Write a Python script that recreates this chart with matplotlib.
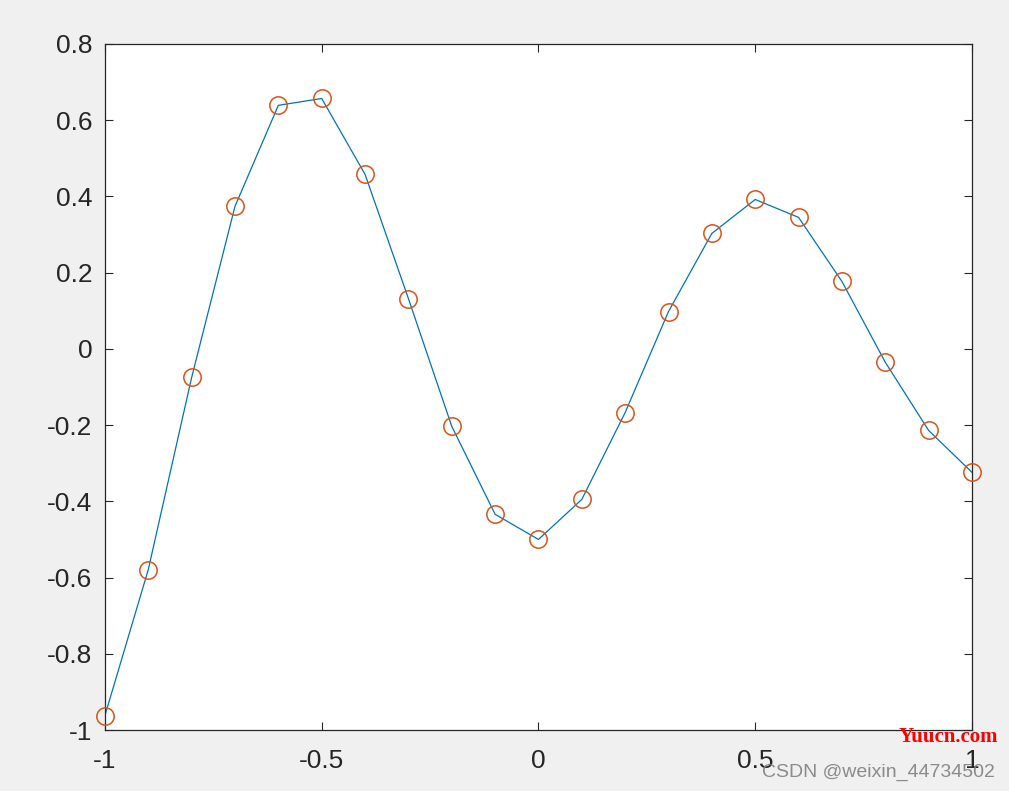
import numpy as np
import matplotlib.pyplot as plt

plt.rcParams['font.family'] = ['Liberation Sans', 'DejaVu Sans']

x = [-1.0, -0.9, -0.8, -0.7, -0.6, -0.5, -0.4, -0.3, -0.2, -0.1, 0.0,
     0.1, 0.2, 0.3, 0.4, 0.5, 0.6, 0.7, 0.8, 0.9, 1.0]
y = [-0.962, -0.579, -0.075, 0.374, 0.639, 0.657, 0.458, 0.132, -0.203, -0.434, -0.500,
     -0.395, -0.167, 0.098, 0.303, 0.392, 0.345, 0.177, -0.035, -0.214, -0.324]
xticks = [-1, -0.5, 0, 0.5, 1]
xlabels = ['-1', '-0.5', '0', '0.5', '1']
yticks = [-1, -0.8, -0.6, -0.4, -0.2, 0, 0.2, 0.4, 0.6, 0.8]
ylabels = ['-1', '-0.8', '-0.6', '-0.4', '-0.2', '0', '0.2', '0.4', '0.6', '0.8']

fig = plt.figure(figsize=(10.09, 7.91), dpi=100, facecolor='#f0f0f0')
ax = fig.add_axes([0.104, 0.0771, 0.8593, 0.8673])
ax.plot(x, y, color='#0072BD', lw=0.9, zorder=2)
ax.plot(x, y, 'o', mfc='none', mec='#D95319', ms=12.5, mew=1.1, zorder=3, clip_on=False)

ax.set_xlim(-1, 1)
ax.set_ylim(-1, 0.8)
ax.set_xticks(xticks)
ax.set_xticklabels(xlabels)
ax.set_yticks(yticks)
ax.set_yticklabels(ylabels)
ax.tick_params(direction='in', top=True, right=True, length=6, width=0.8,
               labelsize=19, colors='#262626')
ax.tick_params(axis='x', pad=14)
ax.tick_params(axis='y', pad=9)
for s in ax.spines.values():
    s.set_linewidth(0.9)
    s.set_color('#262626')

fig.text(0.989, 0.068, 'Yuucn.com', color='red', fontsize=15, fontweight='bold',
         family=['Liberation Serif', 'DejaVu Serif'], ha='right', va='center')
fig.text(0.986, 0.024, 'CSDN @weixin_44734502', color='#808080', alpha=0.9, fontsize=14,
         ha='right', va='center')

fig.savefig('out.png', dpi=100, facecolor=fig.get_facecolor())
